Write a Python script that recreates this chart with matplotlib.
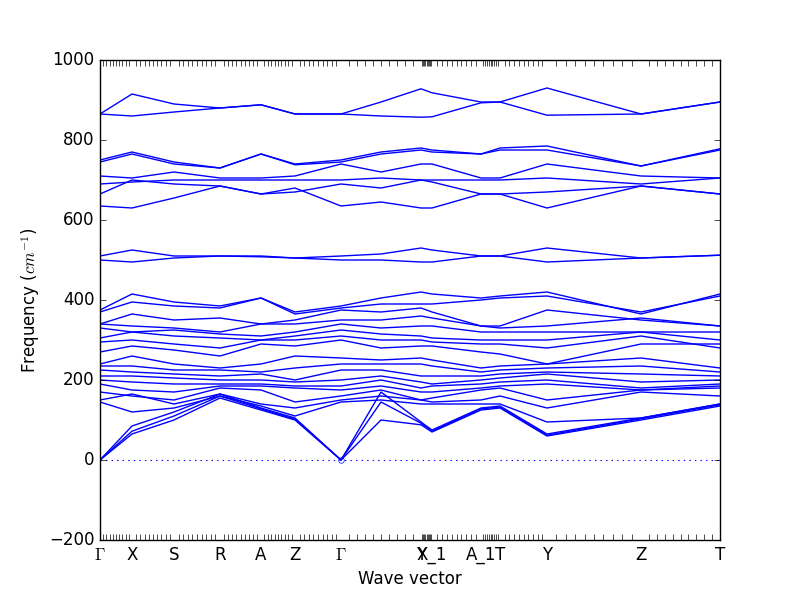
import numpy as np
import matplotlib
matplotlib.use("Agg")
import matplotlib.pyplot as plt

# ------------------------------------------------------------
# High-symmetry path (cumulative distance) and labels
# ------------------------------------------------------------
kpos = [0, 32, 74, 120, 161, 195, 241, 281, 321, 332, 381, 400, 447, 541, 620]
klabels = [r"$\Gamma$", "X", "S", "R", "A", "Z", r"$\Gamma$", "",
           "Y", "X_1", "A_1", "T", "Y", "Z", "T"]

# ------------------------------------------------------------
# Band frequencies (cm^-1) at each path point
# ------------------------------------------------------------
bands = [
    [865, 915, 890, 880, 888, 865, 865, 895, 928, 918, 895, 895, 930, 865, 895],
    [865, 860, 870, 880, 888, 865, 865, 860, 857, 858, 893, 895, 862, 865, 895],
    [750, 770, 745, 730, 765, 740, 750, 770, 780, 775, 765, 780, 785, 735, 778],
    [745, 765, 740, 730, 765, 738, 745, 765, 775, 770, 765, 775, 775, 735, 775],
    [710, 705, 720, 705, 705, 710, 740, 720, 740, 740, 705, 705, 740, 710, 705],
    [690, 695, 700, 700, 700, 700, 700, 705, 700, 700, 700, 700, 705, 690, 705],
    [665, 700, 690, 685, 665, 670, 690, 680, 700, 695, 665, 665, 670, 685, 665],
    [635, 630, 655, 685, 665, 680, 635, 645, 630, 630, 665, 665, 630, 685, 665],
    [510, 525, 510, 510, 510, 505, 510, 515, 530, 525, 510, 510, 530, 505, 512],
    [500, 495, 505, 510, 508, 505, 500, 500, 495, 495, 510, 510, 495, 505, 512],
    [375, 415, 395, 385, 405, 370, 385, 405, 420, 415, 405, 410, 420, 365, 415],
    [370, 395, 385, 380, 405, 365, 380, 390, 390, 390, 400, 405, 410, 370, 410],
    [340, 365, 350, 355, 340, 350, 375, 370, 380, 370, 335, 335, 375, 350, 335],
    [340, 335, 330, 320, 340, 340, 350, 350, 360, 355, 335, 330, 335, 355, 335],
    [330, 320, 325, 315, 310, 320, 340, 330, 335, 335, 320, 320, 320, 320, 320],
    [305, 320, 310, 305, 300, 310, 325, 315, 310, 305, 300, 300, 300, 320, 300],
    [295, 300, 290, 280, 300, 300, 310, 300, 300, 295, 290, 290, 280, 310, 280],
    [270, 285, 275, 260, 290, 285, 300, 280, 285, 285, 270, 265, 240, 290, 290],
    [240, 260, 240, 230, 240, 260, 255, 250, 255, 250, 230, 235, 240, 255, 230],
    [235, 235, 225, 225, 220, 230, 240, 240, 240, 235, 220, 225, 230, 235, 220],
    [225, 220, 215, 210, 215, 200, 225, 225, 210, 210, 210, 215, 220, 215, 210],
    [210, 210, 205, 200, 200, 195, 200, 210, 195, 190, 200, 205, 215, 195, 200],
    [200, 195, 190, 190, 190, 185, 185, 200, 180, 185, 190, 195, 200, 180, 190],
    [190, 175, 170, 185, 185, 180, 175, 185, 170, 170, 180, 185, 190, 175, 185],
    [170, 160, 150, 180, 175, 145, 160, 175, 150, 155, 175, 180, 150, 175, 180],
    [150, 165, 140, 165, 140, 130, 150, 160, 150, 145, 150, 160, 130, 170, 160],
    [145, 120, 130, 160, 135, 110, 145, 150, 140, 140, 140, 140, 95, 105, 140],
    [0, 85, 120, 165, 130, 105, 0, 170, 95, 75, 130, 135, 65, 105, 140],
    [0, 72, 110, 160, 128, 102, 0, 145, 92, 72, 128, 132, 62, 103, 138],
    [0, 65, 100, 155, 125, 100, 0, 100, 88, 70, 125, 130, 60, 100, 135],
]

# ------------------------------------------------------------
# Plot
# ------------------------------------------------------------
plt.style.use("classic")
fig = plt.figure(figsize=(8, 6), dpi=100, facecolor="white")
ax = fig.add_subplot(111)

for b in bands:
    ax.plot(kpos, b, color="b", linewidth=1)

ax.axhline(0, color="b", linestyle=":", linewidth=0.8)
ax.plot(kpos[6], 0, "o", mfc="none", mec="b", markersize=4)

ax.set_xlim(kpos[0], kpos[-1])
ax.set_ylim(-200, 1000)
ticks = [k for k, lab in zip(kpos, klabels) if lab]
labs = [lab for lab in klabels if lab]
ax.set_xticks(ticks)
ax.set_xticklabels(labs)

# minor ticks at the sampled k-points along each segment
minor = []
for a, c in zip(ticks[:-1], ticks[1:]):
    minor.extend(np.linspace(a, c, 11)[1:-1])
ax.set_xticks(minor, minor=True)
ax.tick_params(axis="x", which="minor", length=4)
ax.tick_params(axis="x", which="major", length=0)

ax.set_xlabel("Wave vector")
ax.set_ylabel(r"Frequency ($cm^{-1}$)")

plt.savefig("out.png", dpi=100, facecolor="white")
